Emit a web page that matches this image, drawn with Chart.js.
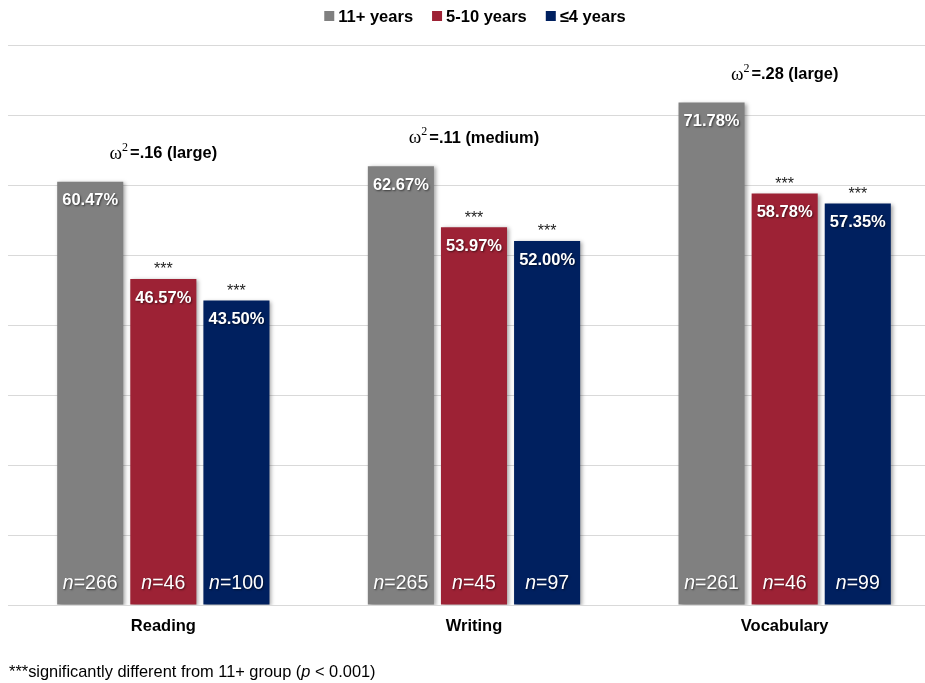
<!DOCTYPE html>
<html><head><meta charset="utf-8">
<script src="https://cdn.jsdelivr.net/npm/chart.js@4"></script>
<style>
html,body{margin:0;padding:0;background:#fff;overflow:hidden;width:925px;height:683px}
#wrap{width:940px;height:683px;position:relative}
</style>
</head><body><div id="wrap"><canvas id="c" width="940" height="683"></canvas></div>
<script>
const categories = ['Reading', 'Writing', 'Vocabulary'];
const seriesNames = ['11+ years', '5-10 years', '≤4 years'];
const seriesColors = ['#808080', '#9D2235', '#00205F'];
const years11plus = [60.47, 62.67, 71.78];
const years5to10 = [46.57, 53.97, 58.78];
const years4orLess = [43.50, 52.00, 57.35];
const n11plus = [266, 265, 261];
const n5to10 = [46, 45, 46];
const n4orLess = [100, 97, 99];
const sig11plus = [false, false, false];
const sig5to10 = [true, true, true];
const sig4orLess = [true, true, true];
const effectValues = ['.16', '.11', '.28'];
const effectSizes = ['large', 'medium', 'large'];
const yMin = 0, yMax = 80, yStep = 10;
const footnoteBefore = '***significantly different from 11+ group (';
const footnoteItalic = 'p';
const footnoteAfter = ' < 0.001)';

const SANS = "'Liberation Sans', Arial, sans-serif";
const SERIF = "'Liberation Serif', 'Times New Roman', serif";

const seriesValues = [years11plus, years5to10, years4orLess];
const seriesN = [n11plus, n5to10, n4orLess];
const seriesSig = [sig11plus, sig5to10, sig4orLess];

const shadowPlugin = {
  id: 'barShadow',
  beforeDatasetDraw(chart) {
    const ctx = chart.ctx;
    ctx.save();
    ctx.shadowColor = 'rgba(0,0,0,0.35)';
    ctx.shadowBlur = 4;
    ctx.shadowOffsetX = 2;
    ctx.shadowOffsetY = 1;
  },
  afterDatasetDraw(chart) { chart.ctx.restore(); }
};

function drawRuns(ctx, runs, cx, cy) {
  let total = 0;
  runs.forEach(r => { ctx.font = r.font; r.w = ctx.measureText(r.text).width; total += r.w + (r.gap || 0); });
  let x = cx - total / 2;
  runs.forEach(r => {
    ctx.font = r.font;
    ctx.fillStyle = r.color;
    ctx.fillText(r.text, x, cy + (r.dy || 0));
    x += r.w + (r.gap || 0);
  });
}

const labelPlugin = {
  id: 'labels',
  afterDatasetsDraw(chart) {
    const ctx = chart.ctx;
    const area = chart.chartArea;
    ctx.save();
    ctx.textBaseline = 'middle';
    ctx.textAlign = 'left';
    chart.data.datasets.forEach((ds, di) => {
      const meta = chart.getDatasetMeta(di);
      meta.data.forEach((bar, i) => {
        const p = bar.getProps(['x', 'y', 'base'], true);
        ctx.save();
        ctx.shadowColor = 'rgba(0,0,0,0.55)';
        ctx.shadowBlur = 2;
        ctx.shadowOffsetX = 1;
        ctx.shadowOffsetY = 1;
        drawRuns(ctx, [{ text: ds.data[i].toFixed(2) + '%', font: 'bold 16.5px ' + SANS, color: '#fff' }], p.x, p.y + 19);
        drawRuns(ctx, [
          { text: 'n', font: 'italic 19.5px ' + SANS, color: '#fff' },
          { text: '=' + seriesN[di][i], font: '19.5px ' + SANS, color: '#fff' }
        ], p.x, p.base - 21);
        ctx.restore();
        if (seriesSig[di][i]) {
          drawRuns(ctx, [{ text: '***', font: '16px ' + SANS, color: '#222' }], p.x, p.y - 9);
        }
      });
    });
    // effect size labels
    categories.forEach((c, i) => {
      let top = Infinity;
      chart.data.datasets.forEach((ds, di) => {
        const b = chart.getDatasetMeta(di).data[i];
        top = Math.min(top, b.y);
      });
      const cx = chart.scales.x.getPixelForValue(i);
      drawRuns(ctx, [
        { text: 'ω', font: '19px ' + SERIF, color: '#000' },
        { text: '2', font: '12px ' + SERIF, color: '#000', dy: -6, gap: 2 },
        { text: '=' + effectValues[i] + ' (' + effectSizes[i] + ')', font: 'bold 16.4px ' + SANS, color: '#000' }
      ], cx, top - 28);
    });
    // legend
    const items = chart.data.datasets.map(ds => ({ label: ds.label, color: ds.backgroundColor }));
    ctx.font = 'bold 16.5px ' + SANS;
    const box = 10, boxGap = 4, itemGap = 19;
    let total = 0;
    items.forEach((it, k) => { it.w = ctx.measureText(it.label).width; total += box + boxGap + it.w + (k < items.length - 1 ? itemGap : 0); });
    let x = (area.left + area.right) / 2 - total / 2 + 1;
    const ly = 16;
    items.forEach(it => {
      ctx.fillStyle = it.color;
      ctx.fillRect(x, ly - box / 2, box, box);
      x += box + boxGap;
      ctx.fillStyle = '#000';
      ctx.fillText(it.label, x, ly + 1);
      x += it.w + itemGap;
    });
    // footnote
    let fx = 9;
    const fy = 672;
    [[footnoteBefore, '16.4px '], [footnoteItalic, 'italic 16.4px '], [footnoteAfter, '16.4px ']].forEach(([t, f]) => {
      ctx.font = f + SANS;
      ctx.fillStyle = '#000';
      ctx.fillText(t, fx, fy);
      fx += ctx.measureText(t).width;
    });
    ctx.restore();
  }
};

new Chart(document.getElementById('c'), {
  type: 'bar',
  data: {
    labels: categories,
    datasets: seriesNames.map((name, k) => ({
      label: name,
      data: seriesValues[k],
      backgroundColor: seriesColors[k],
      borderWidth: 0,
      categoryPercentage: 0.706,
      barPercentage: 0.904
    }))
  },
  options: {
    responsive: false,
    animation: false,
    layout: { padding: { left: 8, right: 0, top: 45, bottom: 0 } },
    plugins: { legend: { display: false }, tooltip: { enabled: false } },
    scales: {
      x: {
        grid: { display: false, drawTicks: false },
        border: { display: false },
        ticks: { color: '#000', font: { family: SANS, size: 16.5, weight: 'bold' }, padding: 12 },
        afterFit(s) { s.height = 78; }
      },
      y: {
        min: yMin, max: yMax,
        ticks: { display: false, stepSize: yStep },
        grid: { color: '#D9D9D9', lineWidth: 1, drawTicks: false },
        border: { display: false },
        afterFit(s) { s.width = 0; }
      }
    }
  },
  plugins: [shadowPlugin, labelPlugin]
});
</script>
</body></html>
